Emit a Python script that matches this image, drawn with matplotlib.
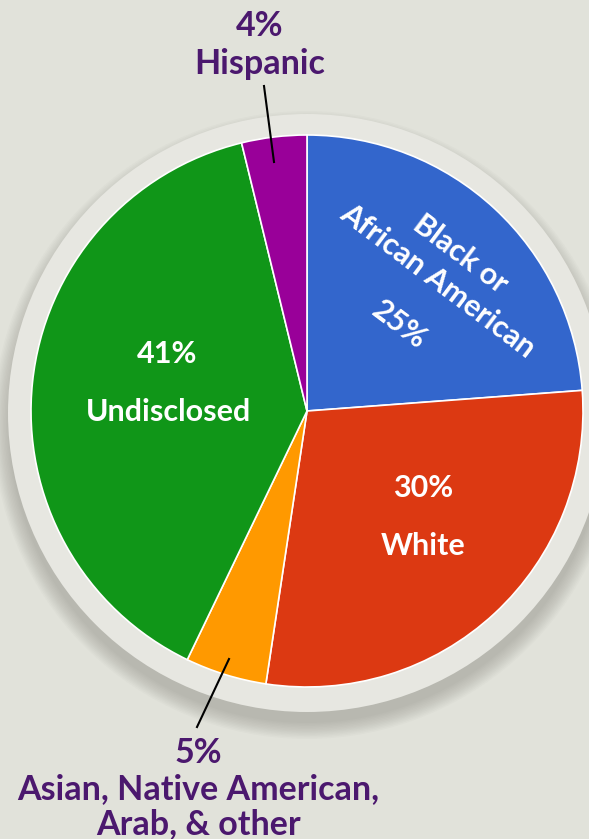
import numpy as np
import matplotlib
matplotlib.use("Agg")
import matplotlib.pyplot as plt
from matplotlib.patches import Circle

# --- Data ---
categories = ["Black or African American", "White",
              "Asian, Native American, Arab, & other", "Undisclosed", "Hispanic"]
values = [25, 30, 5, 41, 4]
colors = ["#3366cc", "#dc3912", "#ff9900", "#109618", "#990099"]

BG = "#e1e2da"
RING = "#e7e7e1"
PURPLE_TXT = "#4b186e"
FONT = ["Lato", "DejaVu Sans"]

W, H = 589, 839


def py(y):
    """pixel y (from top) -> data y (from bottom)"""
    return H - y


fig = plt.figure(figsize=(W / 100, H / 100), dpi=100, facecolor=BG)
ax = fig.add_axes([0, 0, 1, 1])
ax.set_xlim(0, W)
ax.set_ylim(0, H)
ax.set_aspect("equal")
ax.axis("off")
ax.set_facecolor(BG)

cx, cy, r = 307, py(411), 276

# soft drop shadow + light ring behind the pie
for rr in np.linspace(314, 298, 12):
    ax.add_patch(Circle((cx, cy - 14), rr, color="#6e6e66", alpha=0.03, lw=0, zorder=1))
ax.add_patch(Circle((cx, py(413)), 299, color=RING, lw=0, zorder=2))

ax.pie(values, colors=colors, startangle=90, counterclock=False,
       center=(cx, cy), radius=r, frame=True,
       wedgeprops=dict(edgecolor="white", linewidth=1.2, zorder=3))
ax.set_xlim(0, W)
ax.set_ylim(0, H)
ax.axis("off")

# --- labels inside slices ---
white = dict(color="white", fontweight="bold", family=FONT, ha="center", va="center", zorder=5)
rot = dict(rotation=-37, rotation_mode="anchor")
ax.text(460, py(254), "Black or", fontsize=22, **rot, **white)
ax.text(438, py(281), "African American", fontsize=22, **rot, **white)
ax.text(399, py(325), "25%", fontsize=22, **rot, **white)

ax.text(167, py(354), "41%", fontsize=22, **white)
ax.text(168, py(412), "Undisclosed", fontsize=22, **white)
ax.text(423, py(488), "30%", fontsize=22, **white)
ax.text(423, py(546), "White", fontsize=22, **white)

# --- outside labels ---
purple = dict(color=PURPLE_TXT, fontweight="bold", family=FONT, ha="center", va="baseline",
              fontsize=24.5, zorder=5)
ax.text(260, py(36), "4%", **purple)
ax.text(260, py(74), "Hispanic", **purple)
ax.plot([264, 274], [py(86), py(162)], color="black", lw=1.5, zorder=6)

ax.text(198, py(763), "5%", **purple)
ax.text(198, py(799), "Asian, Native American,", **purple)
ax.text(198, py(834), "Arab, & other", **purple)
ax.plot([229, 197], [py(659), py(727)], color="black", lw=1.5, zorder=6)

fig.savefig("out.png", dpi=100, facecolor=BG)
